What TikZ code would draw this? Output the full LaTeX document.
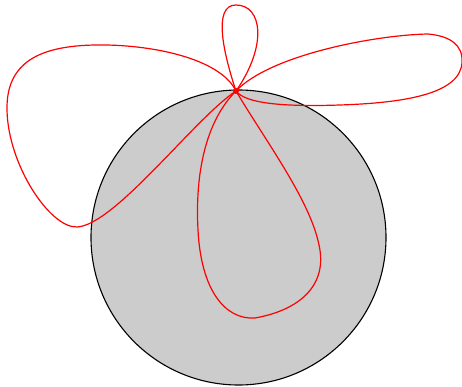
\documentclass[tikz,border=0pt]{standalone}
\begin{document}
\begin{tikzpicture}[x=1pt,y=-1pt,
  loopline/.style={red,line width=1.2pt},
  disc/.style={draw=black,fill=black!20,line width=1.1pt}]
\useasboundingbox (0,0) rectangle (462,387);
\draw[disc] (238.5,237.5) circle[radius=147.5];
\coordinate (P) at (236,91);
% top small loop
\draw[loopline] (P) .. controls (224,55) and (212,5) .. (236,5)
  .. controls (262,5) and (268,45) .. (P);
% big left loop
\draw[loopline] (P) .. controls (220,58) and (150,44) .. (95,45)
  .. controls (40,46) and (6,62) .. (7,110)
  .. controls (8,165) and (50,228) .. (77,227)
  .. controls (115,225) and (195,118) .. (P);
% right loop
\draw[loopline] (P) .. controls (270,55) and (375,35) .. (428,34)
  .. controls (450,36) and (463,45) .. (462,62)
  .. controls (461,95) and (400,103) .. (340,105)
  .. controls (280,107) and (245,103) .. (P);
% bottom loop
\draw[loopline] (P) .. controls (205,122) and (195,175) .. (198,230)
  .. controls (201,290) and (225,320) .. (255,318)
  .. controls (300,310) and (328,285) .. (319,245)
  .. controls (310,200) and (265,140) .. (P);
\fill[red] (P) circle[radius=3];
\end{tikzpicture}
\end{document}
